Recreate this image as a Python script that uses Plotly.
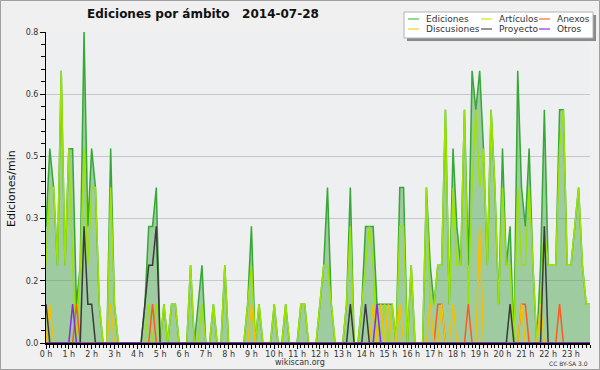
import plotly.graph_objects as go

# ---------------- data (10-minute bins, 0:00 .. 23:50) ----------------
bins = list(range(144))
hour_labels = [f"{h} h" for h in range(24)]
hour_ticks = [h * 6 for h in range(24)]

ediciones = [0.3, 0.5, 0.4, 0.2, 0.7, 0.2, 0.5, 0.5, 0.1, 0.2,
             0.8, 0.3, 0.5, 0.4, 0.1, 0, 0, 0.5, 0.1, 0,
             0, 0, 0, 0, 0, 0, 0.1, 0.3, 0.3, 0.4,
             0, 0.1, 0, 0.1, 0.1, 0, 0, 0, 0.2, 0,
             0.1, 0.2, 0, 0, 0.1, 0, 0, 0.2, 0, 0,
             0, 0, 0, 0.1, 0.3, 0, 0.1, 0, 0, 0,
             0.1, 0, 0, 0.1, 0, 0, 0, 0.1, 0.1, 0,
             0, 0, 0.1, 0.2, 0.4, 0.1, 0, 0, 0, 0.1,
             0.4, 0, 0, 0.1, 0.3, 0.3, 0.3, 0.1, 0.1, 0.1,
             0.1, 0.1, 0, 0.4, 0.4, 0, 0.2, 0, 0, 0,
             0.4, 0.2, 0.1, 0.2, 0.2, 0.6, 0.1, 0.5, 0.3, 0.2,
             0.6, 0.2, 0.7, 0.6, 0.7, 0.5, 0.2, 0.6, 0.4, 0.1,
             0.5, 0.2, 0.3, 0, 0.7, 0.4, 0.3, 0.5, 0.2, 0,
             0.2, 0.6, 0.2, 0.2, 0.2, 0.6, 0.6, 0.2, 0.2, 0.3,
             0.4, 0.2, 0.1, 0.1]

articulos = [0.2, 0.4, 0.4, 0.2, 0.7, 0.2, 0.5, 0.2, 0, 0.2,
             0.5, 0.2, 0.4, 0.4, 0.1, 0, 0, 0.4, 0.1, 0,
             0, 0, 0, 0, 0, 0, 0, 0.1, 0, 0.1,
             0, 0.1, 0, 0.1, 0.1, 0, 0, 0, 0.2, 0,
             0, 0.1, 0, 0, 0.1, 0, 0, 0.2, 0, 0,
             0, 0, 0, 0.1, 0.2, 0, 0.1, 0, 0, 0,
             0.1, 0, 0, 0.1, 0, 0, 0, 0.1, 0.1, 0,
             0, 0, 0.1, 0.2, 0.2, 0.1, 0, 0, 0, 0.1,
             0.3, 0, 0, 0.1, 0.2, 0.3, 0.2, 0, 0, 0.1,
             0, 0.1, 0, 0.3, 0.3, 0, 0.2, 0, 0, 0,
             0.4, 0.1, 0.1, 0.2, 0.2, 0.6, 0.1, 0.4, 0.2, 0.2,
             0.6, 0.1, 0.4, 0.6, 0.4, 0.5, 0.2, 0.6, 0.4, 0.1,
             0.4, 0.2, 0.2, 0, 0.4, 0.2, 0.2, 0.4, 0.2, 0,
             0.1, 0.3, 0.2, 0.2, 0.2, 0.5, 0.6, 0.2, 0.2, 0.3,
             0.4, 0.2, 0.1, 0.1]

anexos = [0.0] * 144
for i in (8, 28, 103, 104, 111, 125, 126, 135):
    anexos[i] = 0.1

discusiones = [0.0] * 144
for i, v in ((1, 0.1), (17, 0.1), (54, 0.1), (86, 0.1), (88, 0.1), (90, 0.1),
             (93, 0.1), (101, 0.1), (104, 0.1), (107, 0.1), (114, 0.3),
             (125, 0.1), (130, 0.1)):
    discusiones[i] = v

proyecto = [0.0] * 144
for i, v in ((0, 0.1), (10, 0.3), (11, 0.1), (12, 0.1), (26, 0.1), (27, 0.2),
             (28, 0.2), (29, 0.3), (80, 0.1), (84, 0.1), (122, 0.1), (131, 0.3)):
    proyecto[i] = v

otros = [0.0] * 144
for i in (7, 87):
    otros[i] = 0.1

y_ticks = [0, 0.16, 0.32, 0.48, 0.64, 0.8]
y_labels = ["0.0", "0.2", "0.3", "0.5", "0.6", "0.8"]

series = [
    ("Ediciones", ediciones, "#35a835", "#6fcf6f"),
    ("Artículos", articulos, "#9be400", "#c8f53a"),
    ("Anexos", anexos, "#ff5a1e", "#ff8a50"),
    ("Discusiones", discusiones, "#f5c000", "#ffd84a"),
    ("Proyecto", proyecto, "#3a3a3a", "#707070"),
    ("Otros", otros, "#8a2be2", "#a855f7"),
]

# ---------------- layout geometry ----------------
W, H = 600, 370
L, R, T, B = 46, 10, 32, 27
PW, PH = W - L - R, H - T - B
FONT = "DejaVu Sans"


def px(x):
    return (x - L) / PW


def py(y):
    return (H - B - y) / PH


fig = go.Figure()
for k, (name, vals, col, _) in enumerate(series):
    kw = {}
    if k == 0:
        kw = dict(fill="tozeroy", fillcolor="rgba(60,160,60,0.45)")
    fig.add_trace(go.Scatter(x=bins, y=vals, mode="lines", name=name,
                             line=dict(color=col, width=1.5), **kw))

shapes = []
annotations = []

# outer frame
shapes.append(dict(type="rect", xref="paper", yref="paper",
                   x0=px(0.5), x1=px(599.5), y0=py(369.5), y1=py(0.5),
                   line=dict(color="#a0a0a0", width=1), layer="below"))

# legend box with shadow
shapes.append(dict(type="rect", xref="paper", yref="paper",
                   x0=px(407), x1=px(596), y0=py(41), y1=py(15),
                   fillcolor="#8a8a8a", line=dict(width=0)))
shapes.append(dict(type="rect", xref="paper", yref="paper",
                   x0=px(404), x1=px(593), y0=py(38), y1=py(12),
                   fillcolor="white", line=dict(color="#b4b4b4", width=1)))
leg_pos = [(408, 19), (481, 19), (539, 19), (408, 29), (481, 29), (539, 29)]
for (name, _, _, lcol), (lx, ly) in zip(series, leg_pos):
    shapes.append(dict(type="line", xref="paper", yref="paper",
                       x0=px(lx), x1=px(lx + 11), y0=py(ly), y1=py(ly),
                       line=dict(color=lcol, width=1.5)))
    annotations.append(dict(xref="paper", yref="paper", x=px(lx + 16), y=py(ly),
                            text=name, showarrow=False, xanchor="left",
                            yanchor="middle",
                            font=dict(family=FONT, size=9, color="#333")))

# title
annotations.append(dict(xref="paper", yref="paper", x=px(85), y=py(14),
                        text="<b>Ediciones por ámbito \u00a0\u00a02014-07-28</b>",
                        showarrow=False, xanchor="left", yanchor="middle",
                        font=dict(family=FONT, size=12, color="#111")))
# y title
annotations.append(dict(xref="paper", yref="paper", x=px(11), y=py(189),
                        text="Ediciones/min", textangle=-90, showarrow=False,
                        xanchor="center", yanchor="middle",
                        font=dict(family=FONT, size=11, color="#111")))
# footer
annotations.append(dict(xref="paper", yref="paper", x=px(300), y=py(362.5),
                        text="wikiscan.org", showarrow=False,
                        xanchor="center", yanchor="middle",
                        font=dict(family=FONT, size=8, color="#333")))
annotations.append(dict(xref="paper", yref="paper", x=px(590), y=py(363),
                        text="CC BY-SA 3.0", showarrow=False,
                        xanchor="right", yanchor="middle",
                        font=dict(family=FONT, size=6, color="#333")))

fig.update_layout(
    width=W, height=H,
    margin=dict(l=L, r=R, t=T, b=B, pad=0),
    paper_bgcolor="#f0f0f0",
    plot_bgcolor="#eeeff1",
    showlegend=False,
    shapes=shapes,
    annotations=annotations,
    font=dict(family=FONT, size=8, color="#333"),
)
fig.update_xaxes(range=[0, 143], tickvals=hour_ticks, ticktext=hour_labels,
                 ticks="outside", ticklen=4, tickwidth=1, tickcolor="black",
                 showline=True, linecolor="black", linewidth=2,
                 showgrid=False, zeroline=False, ticklabelstandoff=-2,
                 minor=dict(dtick=1, ticks="outside", ticklen=3,
                            tickcolor="black", tickwidth=1, showgrid=False),
                 tickfont=dict(family=FONT, size=8, color="#333"))
fig.update_yaxes(range=[0, 0.8], tickvals=y_ticks, ticktext=y_labels,
                 ticks="outside", ticklen=5, tickwidth=1, tickcolor="black",
                 showline=True, linecolor="black", linewidth=1,
                 showgrid=True, gridcolor="#c8c8c8", gridwidth=1,
                 zeroline=False,
                 minor=dict(tick0=0, dtick=0.032, ticks="outside", ticklen=4,
                            tickcolor="black", tickwidth=1, showgrid=False),
                 tickfont=dict(family=FONT, size=8, color="#333"))

fig.write_html("out.html",
               config={"displayModeBar": False},
               post_script="document.body.style.margin='0';"
                           "document.body.style.overflow='hidden';")
